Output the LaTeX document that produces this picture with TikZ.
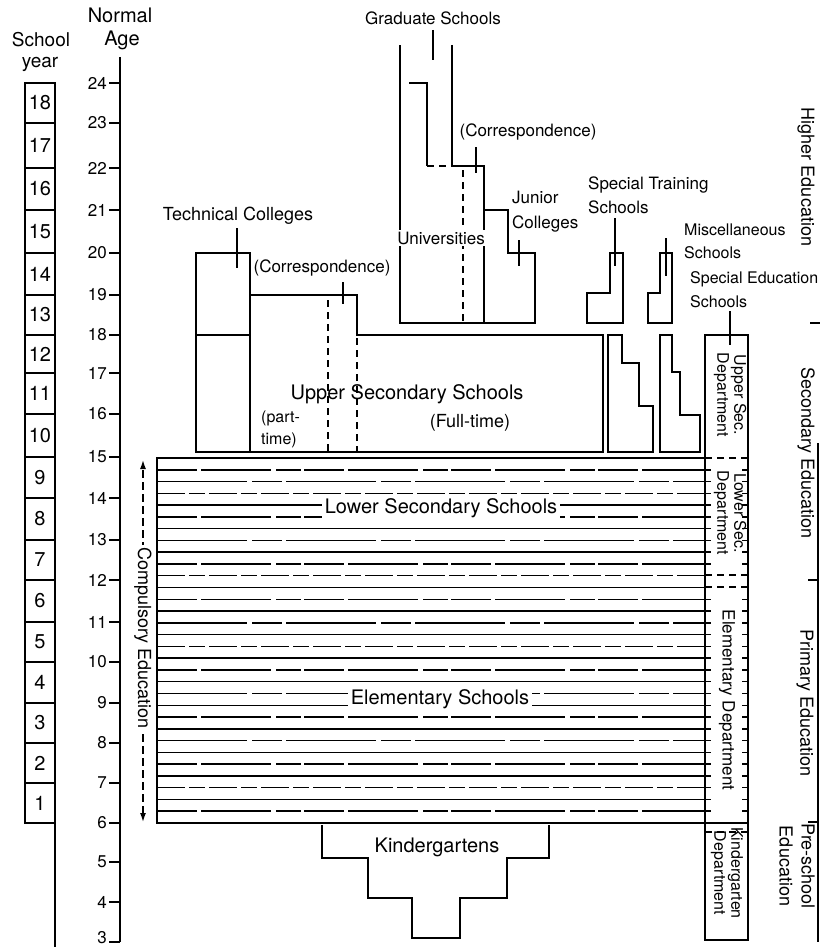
\documentclass[tikz,border=0pt]{standalone}
\usepackage{fontspec}
\setmainfont{TeX Gyre Heros}
\usetikzlibrary{arrows.meta}
\newcommand\fsz[2]{\fontsize{#1pt}{#2pt}\selectfont}
\begin{document}
\begin{tikzpicture}[x=1pt,y=-1pt,
  outl/.style={line width=2.2pt, line join=miter},
  boxl/.style={line width=1.8pt},
  ticker/.style={line width=1.5pt},
  dsh/.style={line width=1.8pt, dash pattern=on 7pt off 5pt},
  stripeA/.style={line width=1.5pt},
  stripeB/.style={line width=1.5pt, dash pattern=on 40pt off 4pt on 70pt off 5pt on 25pt off 3pt},
  stripeC/.style={line width=1.5pt, dash pattern=on 90pt off 5pt on 30pt off 4pt},
  stripeD/.style={line width=1.5pt, dash pattern=on 28pt off 4pt on 16pt off 4pt},
  lbl/.style={inner sep=0pt, align=center},
  wlbl/.style={inner sep=3pt, fill=white, align=center},
]
\useasboundingbox (0,0) rectangle (820,947);

% ---------- headers ----------
\node[lbl, font=\fsz{19}{19}] (school) at (41,40) {School};
\node[lbl, font=\fsz{19}{19}] (year) at (40,64) {year};
\node[lbl, font=\fsz{20}{20}] (normal) at (120,15) {Normal};
\node[lbl, font=\fsz{20}{20}] (agehd) at (122,40) {Age};

% ---------- age axis ----------
\coordinate (axtop) at (120,57);
\coordinate (axbot) at (120,942);
\draw[outl] (axtop) -- (axbot);
\foreach \a/\y/\ly in {24/83/83,23/123/123,22/168/168,21/210/210,20/253/253,19/295/295,18/335/335,17/373/373,16/414/414,15/457/457,14/498/498,13/540/540,12/580/580,11/622/622,10/662/662,9/703/703,8/743/743,7/783/783,6/823/823,5/862/862,4/902/902,3/942/938}{
  \node[lbl, font=\fsz{17}{17}, anchor=east] (age\a) at (107,\ly) {\a};
  \coordinate (ax\a) at (120,\y);
  \draw[ticker, shorten <=2pt] (age\a.east |- ax\a) -- (ax\a);
}

% ---------- school year column ----------
\foreach \n/\t/\b in {1/783/823,2/743/783,3/703/743,4/662/703,5/622/662,6/580/622,7/540/580,8/498/540,9/457/498,10/414/457,11/373/414,12/335/373,13/295/335,14/253/295,15/210/253,16/168/210,17/123/168,18/83/123}{
  \draw[boxl] (25,\t) rectangle (55,\b);
  \node[lbl, font=\fsz{20}{20}] (yr\n) at (40,{(\t+\b)/2}) {\n};
}
\coordinate (yrA) at (55,823);
\coordinate (yrB) at (55,947);
\draw[boxl] (yrA) -- (yrB);

% ---------- compulsory (striped) block ----------
\foreach \k/\s in {1/stripeB,2/stripeC,3/stripeD,4/stripeA,5/stripeB,6/stripeA,7/stripeC,8/stripeA,9/stripeB,10/stripeD,
                   11/stripeA,12/stripeB,13/stripeA,14/stripeC,15/stripeA,16/stripeD,17/stripeA,18/stripeB,19/stripeA,20/stripeC,
                   21/stripeA,22/stripeB,23/stripeA,24/stripeC,25/stripeA,26/stripeB,27/stripeA,28/stripeD,29/stripeA,30/stripeB}{
  \pgfmathsetmacro\yy{458+\k*365/31}
  \draw[\s] (157,\yy) -- (705,\yy);
  \draw[ticker] (705,\yy) -- (711,\yy);
  \draw[ticker] (742,\yy) -- (748,\yy);
}
\draw[outl] (705,458) -- (157,458) -- (157,823) -- (705,823);

\node[wlbl, font=\fsz{20}{20}] (lowsec) at (441,508) {Lower Secondary Schools};
\node[wlbl, font=\fsz{20}{20}] (elem) at (440,699) {Elementary Schools};

% compulsory arrow
\coordinate (cmpTop) at (143,460);
\coordinate (cmpBot) at (143,822);
\draw[line width=1.4pt, dash pattern=on 8pt off 4pt, {Latex[length=9pt,width=6pt]}-{Latex[length=9pt,width=6pt]}] (cmpBot) -- (cmpTop);
\node[wlbl, inner sep=2pt, rotate=-90, font=\fsz{18}{18}] (cmp) at (143,638) {Compulsory Education};

% ---------- upper secondary ----------
\draw[outl] (196,253) rectangle (250,452);
\draw[outl] (196,335) -- (250,335);
\draw[outl] (250,452) -- (250,295) -- (357,295) -- (357,335) -- (603,335) -- (603,452) -- cycle;
\draw[dsh] (328,300) -- (328,452);
\draw[dsh] (357,338) -- (357,452);

\node[lbl, font=\fsz{18}{18}] (tech) at (238,216) {Technical Colleges};
\coordinate (techA) at (237,228); \coordinate (techB) at (237,268);
\draw[ticker] (techA) -- (techB);
\node[lbl, font=\fsz{17}{17}] (corrL) at (322,268) {(Correspondence)};
\coordinate (corrLA) at (343,282); \coordinate (corrLB) at (343,304);
\draw[ticker] (corrLA) -- (corrLB);

\node[lbl, font=\fsz{20}{20}] (usec) at (407,394) {Upper Secondary Schools};
\node[lbl, align=left, anchor=west, font=\fsz{16}{22}] (part) at (261,429) {(part-\\time)};
\node[lbl, font=\fsz{18}{18}] (full) at (470,423) {(Full-time)};

% ---------- universities / graduate / junior colleges ----------
\draw[outl] (452,45) -- (452,166) -- (484,166) -- (484,210) -- (508,210) -- (508,253) -- (535,253) -- (535,323) -- (400,323) -- (400,45);
\draw[outl] (409,83) -- (427,83) -- (427,166);
\draw[dsh] (427,166) -- (452,166);
\draw[outl] (484,210) -- (484,323);
\draw[dsh] (463,170) -- (463,323);
\node[wlbl, inner sep=2pt, font=\fsz{17}{17}] (uni) at (441,238) {Universities};

\node[lbl, font=\fsz{17}{17}] (grad) at (433,18) {Graduate Schools};
\coordinate (gradA) at (433,30); \coordinate (gradB) at (433,60);
\draw[ticker] (gradA) -- (gradB);

\node[lbl, font=\fsz{17}{17}] (corrU) at (528,132) {(Correspondence)};
\coordinate (corrUA) at (476,147); \coordinate (corrUB) at (476,173);
\draw[ticker] (corrUA) -- (corrUB);

\node[lbl, align=left, anchor=west, font=\fsz{17}{25}] (jc) at (512,212) {Junior\\Colleges};
\coordinate (jcA) at (519,240); \coordinate (jcB) at (519,266);
\draw[ticker] (jcA) -- (jcB);

% ---------- special training / miscellaneous / special education ----------
\draw[outl] (587,293) -- (587,323) -- (623,323) -- (623,253) -- (610,253) -- (610,293) -- cycle;
\draw[outl] (648,293) -- (648,323) -- (672,323) -- (672,253) -- (660,253) -- (660,293) -- cycle;
\draw[outl] (608,335) -- (622,335) -- (622,363) -- (639,363) -- (639,406) -- (653,406) -- (653,452) -- (608,452) -- cycle;
\draw[outl] (660,335) -- (672,335) -- (672,372) -- (680,372) -- (680,415) -- (700,415) -- (700,452) -- (660,452) -- cycle;

\node[lbl, align=left, anchor=west, font=\fsz{17}{24}] (stS) at (588,195) {Special Training\\Schools};
\coordinate (stA) at (615,218); \coordinate (stB) at (615,266);
\draw[ticker] (stA) -- (stB);
\node[lbl, align=left, anchor=west, font=\fsz{16}{23}] (misc) at (684,241) {Miscellaneous\\Schools};
\coordinate (miA) at (666,238); \coordinate (miB) at (666,276);
\draw[ticker] (miA) -- (miB);
\node[lbl, align=left, anchor=west, font=\fsz{16}{24}] (sped) at (690,290) {Special Education\\Schools};
\coordinate (seA) at (730,311); \coordinate (seB) at (730,345);
\draw[ticker] (seA) -- (seB);

% ---------- department column ----------
\draw[outl] (705,335) rectangle (748,940);
\draw[dsh] (705,458) -- (748,458);
\draw[dsh] (705,575) -- (748,575);
\draw[dsh] (705,587) -- (748,587);
\draw[outl] (705,823) -- (748,823);
\draw[dsh] (705,832) -- (748,832);
\node[lbl, rotate=-90, font=\fsz{16}{17}] (dUp) at (730,395) {Upper Sec.\\Department};
\node[lbl, rotate=-90, font=\fsz{16}{17}] (dLo) at (730,513) {Lower Sec.\\Department};
\node[lbl, rotate=-90, font=\fsz{17}{17}] (dEl) at (727,700) {Elementary Department};
\node[lbl, rotate=-90, font=\fsz{16}{17}] (dKi) at (727,873) {Kindergarten\\Department};

% ---------- kindergartens ----------
\draw[outl] (322,825) -- (322,858) -- (368,858) -- (368,898) -- (412,898) -- (412,938) -- (460,938) -- (460,898) -- (507,898) -- (507,858) -- (549,858) -- (549,825);
\node[lbl, font=\fsz{20}{20}] (kg) at (437,847) {Kindergartens};

% ---------- level labels at right ----------
\node[lbl, rotate=-90, font=\fsz{18}{18}] (hiEd) at (806,177) {Higher Education};
\node[lbl, rotate=-90, font=\fsz{18}{18}] (seEd) at (806,453) {Secondary Education};
\node[lbl, rotate=-90, font=\fsz{18}{18}] (prEd) at (805,703) {Primary Education};
\node[lbl, rotate=-90, font=\fsz{18}{22}] (psEd) at (797,866) {Pre-school\\Education};
\coordinate (rt1a) at (810,323); \coordinate (rt1b) at (820,323);
\draw[ticker] (rt1a) -- (rt1b);
\coordinate (rvTop) at (818,443); \coordinate (rvBot) at (818,942);
\draw[ticker] (rvTop) -- (rvBot);
\coordinate (rt2a) at (808,580); \coordinate (rt2b) at (818,580);
\draw[ticker] (rt2a) -- (rt2b);
\coordinate (rt3a) at (808,822); \coordinate (rt3b) at (818,822);
\draw[ticker] (rt3a) -- (rt3b);
\end{tikzpicture}
\end{document}
